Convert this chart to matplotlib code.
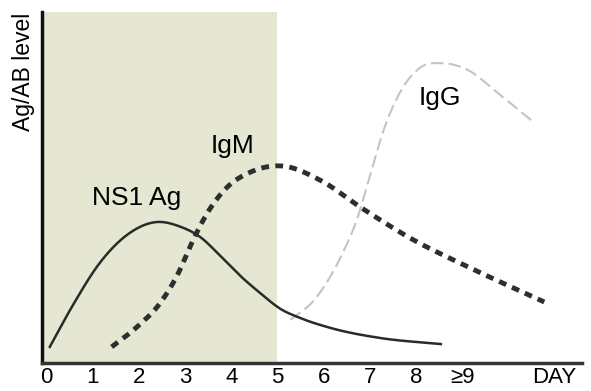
import matplotlib.pyplot as plt
import numpy as np

plt.rcParams['font.family'] = ['Liberation Sans', 'DejaVu Sans']

# day positions and tick labels
day_ticks = [0, 1, 2, 3, 4, 5, 6, 7, 8, 9, 11]
day_labels = ['0', '1', '2', '3', '4', '5', '6', '7', '8', '≥9', 'DAY']

# NS1 antigen level (0-100 scale)
ns1_x = [0.07, 0.57, 1.15, 1.74, 2.39, 2.89, 3.33, 3.76, 4.2, 4.63, 5.07, 5.5, 6.15, 7.24, 8.54]
ns1_y = [4.6, 16.5, 28.5, 36.5, 40.2, 38.9, 35.9, 30.6, 24.8, 19.9, 15.4, 12.8, 10.0, 7.1, 5.4]

# IgM level
igm_x = [1.41, 1.96, 2.46, 2.83, 3.17, 3.54, 3.91, 4.41, 5.07, 5.93, 6.8, 7.96, 9.13, 10.78]
igm_y = [4.6, 10.3, 17.1, 25.0, 35.0, 44.0, 50.1, 54.4, 56.2, 52.1, 44.4, 35.0, 27.4, 17.4]

# IgG level
igg_x = [5.28, 5.8, 6.37, 6.74, 7.02, 7.3, 7.6, 8.1, 8.54, 9.13, 9.78, 10.5]
igg_y = [12.3, 18.0, 30.2, 41.6, 54.1, 66.4, 75.8, 84.3, 85.5, 83.5, 76.9, 69.2]

shade_end = 5


def curve(x, y, n=400):
    # cubic hermite through the points, slopes from np.gradient
    x = np.asarray(x, float)
    y = np.asarray(y, float)
    m = np.gradient(y, x)
    t = np.linspace(x[0], x[-1], n)
    i = np.clip(np.searchsorted(x, t) - 1, 0, len(x) - 2)
    hh = x[i + 1] - x[i]
    s = (t - x[i]) / hh
    out = ((2 * s**3 - 3 * s**2 + 1) * y[i] + (s**3 - 2 * s**2 + s) * hh * m[i]
           + (-2 * s**3 + 3 * s**2) * y[i + 1] + (s**3 - s**2) * hh * m[i + 1])
    return t, out


fig = plt.figure(figsize=(5.91, 3.91), dpi=100)
ax = fig.add_axes([0.071, 0.0716, 0.914, 0.897])

ax.set_xlim(-0.1, 11.6)
ax.set_ylim(0, 100)

ax.axvspan(-0.1, shade_end, color='#e5e7d3', zorder=0, lw=0)

t, v = curve(igg_x, igg_y)
ax.plot(t, v, color='#c4c4c4', lw=1.5, ls=(0, (6, 2.5)), zorder=2)

t, v = curve(ns1_x, ns1_y)
ax.plot(t, v, color='#2a2a2a', lw=1.8, zorder=3)

t, v = curve(igm_x, igm_y)
ax.plot(t, v, color='#2e2e2e', lw=3.5, ls=(0, (1.6, 1.3)), zorder=3)

ax.text(1.96, 45.0, 'NS1 Ag', fontsize=19, ha='center', va='baseline')
ax.text(4.02, 59.8, 'IgM', fontsize=19, ha='center', va='baseline')
ax.text(8.52, 73.5, 'IgG', fontsize=19, ha='center', va='baseline')

ax.set_xticks(day_ticks)
ax.set_xticklabels(day_labels, fontsize=16)
ax.set_yticks([])
ax.tick_params(axis='x', length=0, pad=3)

for s in ['top', 'right']:
    ax.spines[s].set_visible(False)
ax.spines['left'].set_linewidth(2.5)
ax.spines['bottom'].set_linewidth(2.5)
ax.spines['left'].set_color('#111111')
ax.spines['bottom'].set_color('#333333')

fig.text(0.039, 0.967, 'Ag/AB level', rotation=90, fontsize=16.5, ha='center', va='top')

fig.savefig('out.png', dpi=100)
